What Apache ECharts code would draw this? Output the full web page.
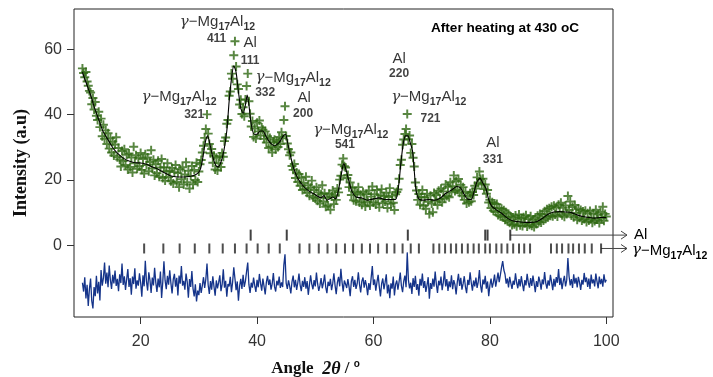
<!DOCTYPE html>
<html>
<head>
<meta charset="utf-8">
<script src="https://cdn.jsdelivr.net/npm/echarts@6/dist/echarts.min.js"></script>
<style>
  html, body { margin: 0; padding: 0; background: #fff; }
  #chart { width: 713px; height: 377px; }
</style>
</head>
<body>
<div id="chart"></div>
<script>
// observed pattern, regular 2theta step
const obsStart = 10;
const obsStep = 0.2;
const obsIntensity = [
  /* 10 */ 54.2, 52.8, 51.5, 53.1, 50.2,
  /* 11 */ 48.9, 47.3, 46.8, 43.2, 45.1,
  /* 12 */ 41.6, 43.9, 39.7, 38.4, 40.9,
  /* 13 */ 36.2, 38.8, 33.4, 36.9, 32.6,
  /* 14 */ 35.2, 31.0, 34.3, 29.6, 32.8,
  /* 15 */ 28.4, 31.7, 27.5, 30.9, 33.1,
  /* 16 */ 27.0, 29.8, 26.3, 24.1, 28.9,
  /* 17 */ 25.8, 29.4, 24.6, 27.7, 23.2,
  /* 18 */ 28.1, 24.0, 26.9, 22.3, 30.2,
  /* 19 */ 25.1, 27.6, 23.4, 26.8, 24.2,
  /* 20 */ 28.3, 23.1, 26.4, 22.0, 27.9,
  /* 21 */ 24.6, 26.9, 22.7, 25.5, 29.1,
  /* 22 */ 23.5, 26.2, 21.4, 24.8, 22.1,
  /* 23 */ 25.9, 21.0, 23.8, 26.4, 20.6,
  /* 24 */ 23.9, 19.8, 22.6, 25.1, 20.9,
  /* 25 */ 22.8, 19.6, 23.7, 18.9, 22.4,
  /* 26 */ 24.6, 19.4, 22.1, 17.8, 23.3,
  /* 27 */ 20.2, 23.9, 18.6, 21.7, 25.4,
  /* 28 */ 19.3, 22.8, 17.4, 21.2, 24.3,
  /* 29 */ 18.7, 23.1, 20.0, 25.3, 19.4,
  /* 30 */ 22.6, 24.8, 26.1, 28.4, 30.5,
  /* 31 */ 32.9, 35.6, 40.1, 34.2, 31.0,
  /* 32 */ 28.2, 29.5, 25.3, 27.4, 23.2,
  /* 33 */ 26.8, 22.9, 25.1, 27.2, 24.0,
  /* 34 */ 28.3, 27.1, 31.9, 33.0, 37.2,
  /* 35 */ 38.4, 45.8, 47.1, 52.6, 51.0,
  /* 36 */ 58.2, 62.5, 54.8, 49.3, 47.9,
  /* 37 */ 43.1, 44.6, 40.2, 42.3, 39.5,
  /* 38 */ 44.7, 48.8, 52.6, 44.1, 40.3,
  /* 39 */ 36.4, 38.1, 33.2, 35.8, 32.7,
  /* 40 */ 37.5, 34.9, 38.2, 33.6, 36.1,
  /* 41 */ 35.4, 32.6, 34.9, 31.5, 33.4,
  /* 42 */ 29.8, 32.9, 30.2, 28.4, 31.6,
  /* 43 */ 32.3, 29.4, 31.8, 30.1, 33.2,
  /* 44 */ 31.0, 34.6, 32.8, 38.4, 42.6,
  /* 45 */ 33.5, 31.2, 29.4, 27.6, 28.4,
  /* 46 */ 24.3, 23.1, 24.9, 20.6, 22.3,
  /* 47 */ 19.4, 21.8, 18.2, 20.7, 16.9,
  /* 48 */ 19.1, 17.2, 21.0, 16.1, 18.4,
  /* 49 */ 15.2, 17.6, 19.8, 14.7, 16.9,
  /* 50 */ 14.3, 17.8, 13.6, 16.2, 12.8,
  /* 51 */ 15.6, 18.4, 13.4, 15.9, 11.8,
  /* 52 */ 14.5, 12.2, 15.8, 10.9, 14.9,
  /* 53 */ 16.8, 12.6, 15.3, 13.9, 17.4,
  /* 54 */ 16.2, 20.1, 21.3, 24.7, 26.6,
  /* 55 */ 24.2, 23.8, 20.6, 21.5, 17.8,
  /* 56 */ 19.2, 15.4, 17.6, 13.8, 16.4,
  /* 57 */ 13.5, 15.9, 17.8, 13.1, 15.5,
  /* 58 */ 12.4, 16.3, 14.0, 11.9, 15.7,
  /* 59 */ 13.3, 16.8, 12.2, 14.9, 18.0,
  /* 60 */ 13.1, 15.6, 12.5, 16.9, 14.2,
  /* 61 */ 11.6, 15.3, 17.2, 12.9, 15.0,
  /* 62 */ 13.4, 16.1, 11.4, 14.8, 17.5,
  /* 63 */ 12.7, 15.2, 13.0, 10.8, 15.6,
  /* 64 */ 16.3, 17.1, 20.4, 24.6, 26.2,
  /* 65 */ 30.8, 32.4, 34.1, 35.6, 40.2,
  /* 66 */ 32.5, 33.6, 28.3, 31.0, 26.8,
  /* 67 */ 24.1, 19.2, 16.8, 13.9, 15.7,
  /* 68 */ 12.4, 14.8, 16.9, 12.1, 14.6,
  /* 69 */ 11.2, 15.8, 13.3, 9.6, 15.2,
  /* 70 */ 12.8, 10.1, 16.0, 13.6, 15.4,
  /* 71 */ 12.3, 16.7, 14.1, 17.3, 13.2,
  /* 72 */ 16.5, 14.4, 18.6, 15.1, 17.9,
  /* 73 */ 14.7, 19.3, 16.2, 18.1, 21.4,
  /* 74 */ 16.6, 19.7, 17.0, 20.3, 16.1,
  /* 75 */ 18.5, 15.2, 17.8, 13.9, 16.4,
  /* 76 */ 12.8, 15.1, 13.2, 15.9, 13.5,
  /* 77 */ 16.3, 15.4, 18.2, 17.4, 20.8,
  /* 78 */ 19.1, 22.6, 20.3, 18.7, 20.4,
  /* 79 */ 17.2, 18.6, 15.8, 16.9, 13.1,
  /* 80 */ 13.9, 11.4, 13.2, 10.6, 12.8,
  /* 81 */ 10.2, 12.6, 9.3, 11.4, 8.9,
  /* 82 */ 11.2, 8.6, 10.7, 7.8, 10.1,
  /* 83 */ 7.4, 9.6, 6.9, 8.8, 6.2,
  /* 84 */ 8.5, 6.4, 9.1, 5.8, 7.9,
  /* 85 */ 9.4, 6.1, 8.3, 5.9, 8.6,
  /* 86 */ 6.8, 9.2, 5.7, 8.0, 6.3,
  /* 87 */ 8.9, 6.0, 7.8, 5.6, 8.4,
  /* 88 */ 6.5, 9.0, 7.1, 9.6, 7.0,
  /* 89 */ 9.5, 7.6, 10.4, 8.1, 11.0,
  /* 90 */ 8.6, 11.3, 9.0, 11.8, 8.9,
  /* 91 */ 12.1, 9.4, 11.6, 8.8, 12.4,
  /* 92 */ 10.1, 13.0, 9.2, 11.5, 8.7,
  /* 93 */ 12.2, 9.6, 15.1, 10.8, 13.4,
  /* 94 */ 9.1, 11.7, 8.6, 12.3, 9.9,
  /* 95 */ 7.8, 11.2, 8.4, 10.8, 7.6,
  /* 96 */ 10.3, 8.0, 10.6, 7.1, 9.8,
  /* 97 */ 7.6, 10.5, 8.2, 6.9, 9.7,
  /* 98 */ 7.4, 10.9, 7.9, 9.4, 6.8,
  /* 99 */ 10.2, 8.3, 11.8, 7.5, 9.6,
  /* 100 */ 8.8
];

// difference curve (obs - calc, shifted), same step as obs
const diffIntensity = [
  /* 10 */ -11.5, -14.2, -9.8, -16.3, -12.1,
  /* 11 */ -18.6, -13.4, -10.2, -17.1, -19.4,
  /* 12 */ -12.8, -15.6, -9.4, -14.8, -11.2,
  /* 13 */ -16.9, -7.6, -12.4, -10.1, -5.3,
  /* 14 */ -11.8, -8.4, -12.9, -6.2, -10.6,
  /* 15 */ -13.4, -9.1, -11.7, -7.8, -12.5,
  /* 16 */ -10.3, -14.1, -8.9, -11.6, -5.6,
  /* 17 */ -12.2, -9.5, -13.7, -10.4, -7.3,
  /* 18 */ -12.8, -10.1, -15.2, -9.6, -11.9,
  /* 19 */ -7.1, -13.3, -10.8, -12.4, -8.6,
  /* 20 */ -11.5, -15.8, -9.2, -12.6, -4.8,
  /* 21 */ -11.1, -13.9, -8.3, -10.7, -14.6,
  /* 22 */ -9.9, -12.3, -6.9, -11.4, -14.3,
  /* 23 */ -10.2, -12.9, -8.1, -16.2, -11.3,
  /* 24 */ -4.9, -10.8, -13.5, -9.4, -12.1,
  /* 25 */ -7.7, -11.6, -14.8, -10.5, -8.8,
  /* 26 */ -12.7, -10.0, -15.4, -9.3, -11.8,
  /* 27 */ -6.4, -12.4, -10.9, -13.6, -8.7,
  /* 28 */ -11.2, -16.1, -10.4, -12.8, -7.9,
  /* 29 */ -13.3, -15.7, -12.0, -17.2, -13.9,
  /* 30 */ -15.3, -11.6, -14.6, -12.3, -9.8,
  /* 31 */ -13.1, -10.4, -5.6, -12.2, -14.9,
  /* 32 */ -11.0, -13.6, -9.5, -12.7, -15.5,
  /* 33 */ -10.8, -13.2, -11.4, -9.2, -14.1,
  /* 34 */ -12.0, -7.4, -13.0, -10.9, -15.8,
  /* 35 */ -11.9, -12.6, -9.7, -14.4, -11.3,
  /* 36 */ -6.8, -10.2, -13.8, -11.1, -17.0,
  /* 37 */ -12.5, -10.3, -13.4, -9.1, -12.8,
  /* 38 */ -11.0, -8.0, -5.3, -12.1, -14.6,
  /* 39 */ -11.5, -13.0, -9.9, -12.4, -14.3,
  /* 40 */ -10.6, -12.9, -8.8, -11.7, -13.9,
  /* 41 */ -10.2, -12.6, -15.1, -11.3, -9.4,
  /* 42 */ -12.2, -10.5, -13.6, -11.8, -8.5,
  /* 43 */ -12.7, -14.2, -10.9, -12.3, -9.6,
  /* 44 */ -13.1, -11.4, -12.8, -6.1, -2.8,
  /* 45 */ -11.6, -13.4, -10.8, -12.5, -14.8,
  /* 46 */ -11.2, -9.3, -12.9, -10.6, -13.7,
  /* 47 */ -11.5, -8.7, -12.2, -14.1, -10.9,
  /* 48 */ -12.8, -9.8, -13.3, -11.0, -15.2,
  /* 49 */ -12.1, -9.2, -11.9, -13.5, -10.7,
  /* 50 */ -12.6, -8.4, -11.8, -14.0, -12.4,
  /* 51 */ -10.1, -13.2, -11.5, -9.0, -12.9,
  /* 52 */ -14.7, -11.2, -12.5, -10.3, -13.8,
  /* 53 */ -11.7, -8.6, -12.3, -15.0, -11.4,
  /* 54 */ -9.7, -12.6, -7.2, -11.3, -14.2,
  /* 55 */ -10.8, -11.9, -13.1, -10.4, -12.7,
  /* 56 */ -15.6, -11.0, -9.5, -12.8, -10.6,
  /* 57 */ -13.4, -11.8, -8.3, -12.0, -14.5,
  /* 58 */ -11.1, -9.9, -13.0, -10.7, -12.4,
  /* 59 */ -15.3, -11.6, -13.7, -10.0, -6.4,
  /* 60 */ -12.2, -10.5, -13.9, -11.3, -9.1,
  /* 61 */ -12.7, -15.7, -11.8, -10.2, -13.5,
  /* 62 */ -11.4, -8.9, -14.8, -12.1, -16.2,
  /* 63 */ -11.7, -13.3, -9.6, -15.4, -12.0,
  /* 64 */ -10.8, -13.6, -11.2, -8.4, -12.5,
  /* 65 */ -14.4, -11.0, -9.3, -12.9, -2.2,
  /* 66 */ -10.6, -13.2, -11.5, -14.9, -10.1,
  /* 67 */ -12.8, -9.4, -13.7, -11.9, -15.5,
  /* 68 */ -10.3, -12.4, -8.7, -13.1, -11.0,
  /* 69 */ -14.3, -12.2, -9.8, -16.4, -11.6,
  /* 70 */ -13.4, -10.2, -12.7, -8.1, -11.9,
  /* 71 */ -14.6, -10.9, -12.3, -9.6, -13.8,
  /* 72 */ -11.4, -7.9, -12.6, -10.4, -14.0,
  /* 73 */ -11.1, -12.9, -9.2, -13.5, -10.7,
  /* 74 */ -12.1, -15.1, -11.3, -8.8, -12.5,
  /* 75 */ -10.0, -13.6, -11.8, -9.5, -12.8,
  /* 76 */ -14.7, -10.6, -12.2, -8.3, -11.5,
  /* 77 */ -13.9, -10.8, -12.6, -9.9, -13.1,
  /* 78 */ -11.2, -7.6, -12.4, -14.5, -10.5,
  /* 79 */ -12.0, -9.4, -13.3, -11.1, -15.6,
  /* 80 */ -12.3, -10.2, -13.0, -11.4, -9.0,
  /* 81 */ -12.7, -10.6, -8.4, -11.3, -9.1,
  /* 82 */ -6.8, -4.9, -7.6, -8.9, -11.8,
  /* 83 */ -10.2, -12.9, -9.7, -11.6, -13.4,
  /* 84 */ -10.9, -12.1, -8.6, -11.5, -13.2,
  /* 85 */ -10.4, -12.6, -9.5, -11.9, -14.1,
  /* 86 */ -10.7, -12.3, -8.8, -11.4, -13.0,
  /* 87 */ -10.1, -12.5, -9.3, -11.7, -14.4,
  /* 88 */ -11.0, -12.8, -9.6, -11.2, -13.6,
  /* 89 */ -10.5, -12.0, -8.2, -11.6, -13.3,
  /* 90 */ -10.8, -12.4, -9.1, -11.3, -13.8,
  /* 91 */ -10.3, -12.7, -9.8, -11.5, -7.3,
  /* 92 */ -12.2, -10.0, -13.5, -11.1, -9.4,
  /* 93 */ -12.6, -10.7, -3.9, -9.5, -12.3,
  /* 94 */ -10.4, -13.1, -8.9, -11.8, -10.0,
  /* 95 */ -12.9, -9.7, -11.4, -13.7, -10.6,
  /* 96 */ -12.1, -8.5, -11.3, -9.9, -12.8,
  /* 97 */ -10.2, -13.4, -9.0, -11.7, -10.5,
  /* 98 */ -12.6, -8.7, -11.1, -13.2, -9.6,
  /* 99 */ -11.9, -10.3, -12.7, -8.9, -11.4,
  /* 100 */ -10.6
];

// calculated (Rietveld fit) profile
const calcAngle = [
  10, 10.5, 11, 11.5, 12, 12.5, 13, 13.5, 14, 14.5, 15, 15.5, 16,
  17, 18, 19, 20, 21, 22, 23, 24, 25, 26, 27, 28, 29,
  29.8, 30.3, 30.7, 31.1, 31.5, 31.9, 32.4, 32.9, 33.3, 33.8, 34.3, 34.8,
  35.2, 35.6, 36, 36.4, 36.8, 37.2, 37.6, 38, 38.3, 38.6,
  39, 39.5, 40, 40.5, 41, 41.5, 42, 42.5, 43, 43.5, 44, 44.5, 44.9,
  45.3, 45.8, 46.3, 47, 48, 49, 50, 51, 51.5, 52, 52.5, 53, 53.5, 54, 54.5, 54.9,
  55.3, 55.8, 56.3, 57, 58, 59, 60, 61, 62, 63, 63.8,
  64.3, 64.7, 65.1, 65.5, 65.9, 66.3, 66.7, 67, 67.3, 67.8, 68.5, 69.5,
  70.5, 71.5, 72.5, 73.5, 74.3, 75, 75.6, 76.3, 76.8, 77.3, 77.8, 78.3, 78.8, 79.3, 79.8, 80.3, 81,
  82, 83, 84, 85, 86, 87, 88, 89, 90, 91, 92, 93, 94, 95, 96, 97, 98, 99, 100
];
const calcIntensity = [
  53, 50.5, 48, 45.5, 42.5, 40, 37.5, 35, 33.5, 32, 30.5, 29.2, 28.2,
  26.7, 25.8, 25.3, 25.2, 24.8, 24, 23.3, 22.3, 21.4, 21, 20.9, 21, 21.3,
  22, 23.5, 27, 31.5, 33.5, 31, 27, 24.5, 24, 25.5, 29, 35,
  44, 51, 55, 53, 47, 42, 40.5, 43, 46, 43,
  37, 34, 34, 35, 35, 33.5, 32, 31, 30.5, 31, 32, 33.5, 34,
  31, 27, 23.5, 20.5, 18, 16.5, 15.5, 14.5, 15.2, 13.8, 14.2, 14.8, 14.2, 17, 22, 25,
  23, 19.5, 16.5, 14.8, 14.5, 13.8, 14.2, 14.5, 14, 14, 14,
  18, 25, 31, 33.5, 33.5, 31.5, 29, 23, 17, 14.2, 13.8, 14,
  13.8, 14.5, 16, 17, 18, 17.5, 15.5, 14, 14, 16.5, 19.5, 20.5, 19, 17.5, 14, 12, 11,
  9.8, 8.3, 7.4, 7.2, 7, 7, 7.2, 8.2, 9.5, 10.2, 10.3, 10.2, 10, 9.3, 8.8, 8.5, 8.3, 8.5, 8.5
];

// Bragg reflection positions
const alTicks = [38.9, 45.1, 65.9, 79.2, 79.6, 83.5];
const mgTicks = [
  20.6, 23.9, 26.7, 29.3, 31.8, 34.1, 36.2, 38.2, 40.1, 42.0, 43.9,
  47.3, 49.0, 50.6, 52.1, 53.6, 55.1, 56.5, 58.0, 59.4, 60.8, 62.3, 63.6,
  65.0, 66.4, 67.8, 70.3, 71.3, 72.3, 73.3, 74.2, 75.2, 76.2, 77.2, 78.1,
  79.2, 80.0, 81.1, 82.0, 83.0, 84.0, 85.0, 85.9, 86.9,
  90.5, 91.5, 92.4, 93.5, 94.3, 95.3, 96.3, 97.5, 99.1
];
const alRow = 3.1;
const mgRow = -1.0;

const xTicks = [20, 40, 60, 80, 100];
const yTicks = [0, 20, 40, 60];

// peak annotations
const PHASE = 'γ-Mg17Al12';
const annotText = [PHASE, '411', 'Al', '111', PHASE, '332', 'Al', '200',
  PHASE, '541', PHASE, '321', 'Al', '220', PHASE, '721', 'Al', '331'];
const annotAngle = [33.2, 33.05, 38.8, 38.8, 46.2, 41.4, 48.1, 47.9,
  56.1, 55.1, 26.6, 29.2, 64.4, 64.4, 69.5, 69.8, 80.5, 80.5];
const annotIntensity = [68.5, 63.2, 61.9, 56.7, 51.4, 46.7, 45.3, 40.4,
  35.3, 30.7, 45.5, 39.9, 57.0, 52.5, 45.5, 38.9, 31.4, 26.3];

const phaseRich = '{g|γ}{t|−Mg}{s|17}{t|Al}{s|12}';
const labelRich = {
  g: { fontFamily: 'DejaVu Serif', fontStyle: 'italic', fontSize: 15, lineHeight: 22, color: '#000' },
  t: { fontFamily: 'Liberation Sans', fontSize: 15, lineHeight: 22, color: '#000' },
  s: { fontFamily: 'Liberation Sans', fontSize: 10.5, fontWeight: 'bold', verticalAlign: 'bottom', color: '#000' },
  a: { fontFamily: 'Liberation Sans', fontSize: 15, color: '#000' },
  n: { fontFamily: 'Liberation Sans', fontSize: 12, fontWeight: 'bold', color: '#111' }
};

const obsData = obsIntensity.map((v, i) => [+(obsStart + i * obsStep).toFixed(2), v]);
const diffData = diffIntensity.map((v, i) => [+(obsStart + i * obsStep).toFixed(2), v]);
const calcData = calcAngle.map((a, i) => [a, calcIntensity[i]]);
const annotData = annotText.map((t, i) => [annotAngle[i], annotIntensity[i], t]);

const plusSymbol = 'path://M2.35,0H3.65V2.35H6V3.65H3.65V6H2.35V3.65H0V2.35H2.35Z';
const axisFont = { fontFamily: 'Liberation Sans', fontSize: 16, color: '#333' };

const chart = echarts.init(document.getElementById('chart'));

const option = {
  animation: false,
  backgroundColor: '#fff',
  title: {
    text: 'After heating at 430 oC',
    left: 426,
    top: 16,
    textStyle: { fontFamily: 'Liberation Sans', fontSize: 13.6, fontWeight: 'bold', color: '#000' }
  },
  grid: {
    left: 74, top: 9, width: 539, height: 308,
    show: true, borderColor: '#222', borderWidth: 1,
    outerBoundsMode: 'none'
  },
  xAxis: {
    type: 'value',
    min: 8.55,
    max: 101.15,
    axisLine: { show: false, onZero: false },
    splitLine: { show: false },
    axisTick: { show: true, customValues: xTicks, length: 7, lineStyle: { color: '#333' } },
    axisLabel: { customValues: xTicks, margin: 17, ...axisFont },
    name: 'Angle  {i|2θ} / {o|o}',
    nameLocation: 'middle',
    nameGap: 42,
    nameTextStyle: {
      fontFamily: 'Liberation Serif', fontWeight: 'bold', fontSize: 17, color: '#111',
      lineHeight: 20, padding: [0, 56, 0, 0],
      rich: {
        i: { fontFamily: 'Liberation Serif', fontStyle: 'italic', fontSize: 18, lineHeight: 20, color: '#111' },
        o: { fontFamily: 'Liberation Sans', fontSize: 10, verticalAlign: 'top', color: '#111' }
      }
    }
  },
  yAxis: {
    type: 'value',
    min: -22,
    max: 72.4,
    axisLine: { show: false, onZero: false },
    splitLine: { show: false },
    axisTick: { show: true, customValues: yTicks, length: 7, lineStyle: { color: '#333' } },
    axisLabel: { customValues: yTicks, margin: 12, ...axisFont },
    name: 'Intensity (a.u)',
    nameLocation: 'middle',
    nameGap: 44,
    nameTextStyle: { fontFamily: 'Liberation Serif', fontWeight: 'bold', fontSize: 18, color: '#111' }
  },
  series: [
    {
      name: 'observed',
      type: 'scatter',
      data: obsData,
      symbol: plusSymbol,
      symbolSize: 9,
      itemStyle: { color: '#2e6812' },
      z: 2
    },
    {
      name: 'calculated',
      type: 'line',
      data: calcData,
      showSymbol: false,
      smooth: 0.25,
      lineStyle: { color: '#000', width: 1.1 },
      z: 3
    },
    {
      name: 'Al',
      type: 'scatter',
      data: alTicks.map(a => [a, alRow]),
      symbol: 'rect',
      symbolSize: [2, 11],
      itemStyle: { color: '#111' },
      z: 3
    },
    {
      name: 'Mg17Al12',
      type: 'scatter',
      data: mgTicks.map(a => [a, mgRow]),
      symbol: 'rect',
      symbolSize: [2, 10],
      itemStyle: { color: '#222' },
      z: 3
    },
    {
      name: 'difference',
      type: 'line',
      data: diffData,
      showSymbol: false,
      lineStyle: { color: '#15348a', width: 1.3 },
      z: 2
    },
    {
      name: 'labels',
      type: 'scatter',
      data: annotData,
      symbolSize: 1,
      itemStyle: { color: 'transparent' },
      silent: true,
      z: 5,
      label: {
        show: true,
        position: 'inside',
        align: 'center',
        verticalAlign: 'middle',
        formatter: p => {
          const t = p.data[2];
          if (t === PHASE) return phaseRich;
          if (t === 'Al') return '{a|Al}';
          return '{n|' + t + '}';
        },
        rich: labelRich
      }
    }
  ]
};

chart.setOption(option);

// phase legend arrows to the right of the frame
const pAl = chart.convertToPixel({ gridIndex: 0 }, [alTicks[alTicks.length - 1], alRow]);
const pMg = chart.convertToPixel({ gridIndex: 0 }, [mgTicks[mgTicks.length - 1], mgRow]);
const arrowX = 627;
const arrowStyle = { stroke: '#444', lineWidth: 1, fill: null };

function arrow(x0, y) {
  return [
    { type: 'line', shape: { x1: x0, y1: y, x2: arrowX, y2: y }, style: arrowStyle },
    { type: 'polyline', shape: { points: [[arrowX - 6, y - 4], [arrowX, y], [arrowX - 6, y + 4]] }, style: arrowStyle }
  ];
}

chart.setOption({
  graphic: [
    ...arrow(pAl[0], pAl[1]),
    ...arrow(pMg[0], pMg[1]),
    {
      type: 'text', x: 634, y: pAl[1],
      style: { text: 'Al', fontFamily: 'Liberation Sans', fontSize: 15, fill: '#000', verticalAlign: 'middle' }
    },
    {
      type: 'text', x: 632, y: pMg[1] + 2,
      style: { text: phaseRich, rich: labelRich, verticalAlign: 'middle' }
    }
  ]
});
</script>
</body>
</html>
